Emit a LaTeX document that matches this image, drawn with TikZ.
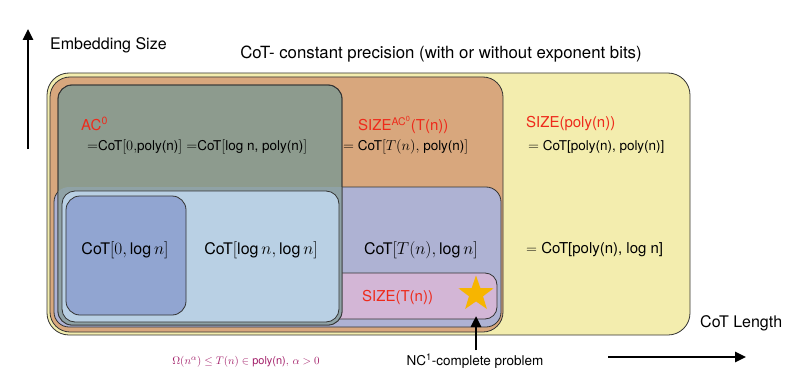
\documentclass[tikz,border=0pt]{standalone}
\usepackage{fontspec}
\setmainfont{TeX Gyre Heros}
\usetikzlibrary{arrows.meta,shapes.geometric}
\definecolor{yellowc}{HTML}{F3EDAE}
\definecolor{orangec}{HTML}{D8A77D}
\definecolor{greenc}{HTML}{8D9B8E}
\definecolor{purplec}{HTML}{AEB2D3}
\definecolor{lbluec}{HTML}{B9D0E4}
\definecolor{dbluec}{HTML}{91A5D1}
\definecolor{pinkc}{HTML}{D3B6D6}
\definecolor{gpc}{HTML}{8FA2A6}
\definecolor{redc}{HTML}{EE2A1B}
\definecolor{magc}{HTML}{A3206A}
\definecolor{starc}{HTML}{F7B500}
\newcommand\myfs[1]{\fontsize{#1}{#1}\selectfont}
\begin{document}
\begin{tikzpicture}[x=1pt,y=-1pt,
  boxline/.style={draw=black!80,line width=0.8pt},
  lbl/.style={inner sep=0pt,font=\myfs{16}},
  redlbl/.style={inner sep=0pt,anchor=west,text=redc,font=\myfs{15}},
  eqlbl/.style={inner sep=0pt,anchor=west,font=\myfs{13.5}},
  inlbl/.style={inner sep=0pt,font=\myfs{16}},
  bigarrow/.style={line width=2.6pt,-{Triangle[length=11pt,width=10pt]}}]
\useasboundingbox (0,0) rectangle (791,385);
% boxes
\draw[boxline,fill=yellowc,rounded corners=22pt] (47,73) rectangle (690,335);
\draw[boxline,fill=orangec,rounded corners=20pt] (50,77) rectangle (503,332);
\draw[boxline,fill=purplec,rounded corners=15pt] (54,187) rectangle (501,327);
\draw[boxline,fill=pinkc,rounded corners=12pt] (300,273) rectangle (497,319);
\draw[boxline,fill=greenc,rounded corners=14pt] (58,85) rectangle (342,325);
\begin{scope}
  \clip[rounded corners=15pt] (54,187) rectangle (501,327);
  \fill[gpc,rounded corners=14pt] (58,85) rectangle (342,325);
\end{scope}
\draw[black!80,line width=0.8pt,rounded corners=14pt] (58,85) rectangle (342,325);
\draw[boxline,fill=lbluec,rounded corners=13pt] (62,191) rectangle (339,322);
\draw[boxline,fill=dbluec,rounded corners=14pt] (66,196) rectangle (186,315);
% star
\node[star,star points=5,star point ratio=2.5,fill=starc,minimum size=37pt,inner sep=0pt] (star) at (476,294) {};
% axis labels and arrows
\node[lbl,anchor=west] (emb) at (50,45) {Embedding Size};
\coordinate (ybase) at (28,149);
\coordinate (ytip) at (28,29);
\draw[bigarrow] (ybase) -- (ytip);
\node[lbl,font=\myfs{16.8}] (title) at (441,54) {CoT- constant precision (with or without exponent bits)};
\node[lbl,anchor=west] (len) at (700,323) {CoT Length};
\coordinate (xbase) at (608,357);
\coordinate (xtip) at (746,357);
\draw[bigarrow] (xbase) -- (xtip);
% region labels
\node[redlbl] (ac0) at (81,124) {AC\textsuperscript{0}};
\node[eqlbl] (ac0eq) at (87,147) {$=$CoT$[0,$poly(n)$]=$CoT$[\log$ n, poly(n)$]$};
\node[redlbl] (sizeac) at (358,125) {SIZE\textsuperscript{AC\textsuperscript{0}}(T(n))};
\node[eqlbl] (sizeaceq) at (343,147) {$=$ CoT$[T(n),$ poly(n)$]$};
\node[redlbl] (sizepoly) at (526,124) {SIZE(poly(n))};
\node[eqlbl] (sizepolyeq) at (528,147) {$=$ CoT[poly(n), poly(n)]};
\node[inlbl] (c0) at (125,250) {CoT$[0,\log n]$};
\node[inlbl] (clog) at (261,250) {CoT$[\log n,\log n]$};
\node[inlbl,anchor=east] (ct) at (478,250) {CoT$[T(n),\log n]$};
\node[eqlbl,font=\myfs{15}] (cpoly) at (526,250) {$=$ CoT[poly(n), log n]};
\node[redlbl] (sizet) at (362,297) {SIZE(T(n))};
\node[inner sep=0pt,text=magc,font=\myfs{11}] (omega) at (246,362) {$\Omega(n^\alpha)\le T(n)\in$ poly(n)$,\,\alpha>0$};
\node[inner sep=0pt,font=\myfs{13.5}] (nc) at (475,361) {NC\textsuperscript{1}-complete problem};
\coordinate (ncbase) at (476,350);
\coordinate (nctip) at (476,316);
\draw[bigarrow] (ncbase) -- (nctip);
\end{tikzpicture}
\end{document}
